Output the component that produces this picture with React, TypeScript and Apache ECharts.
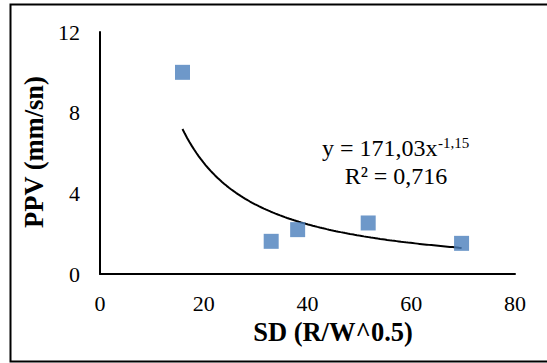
import React, { useEffect, useRef } from "react";
import * as echarts from "echarts";

// Data
const sdValues: number[] = [15.9, 33.0, 38.1, 51.7, 69.7];
const ppvValues: number[] = [10.0, 1.62, 2.2, 2.53, 1.52];

const xTicks = { min: 0, max: 80, interval: 20 };
const yTicks = { min: 0, max: 12, interval: 4 };

const xTitle = "SD (R/W^0.5)";
const yTitle = "PPV (mm/sn)";
const eqMain = "y = 171,03x";
const eqExp = "-1,15";
const eqR2 = "R² = 0,716";

// Power trendline (least squares in log-log space), as a spreadsheet trendline does
function powerFit(xs: number[], ys: number[]) {
  const lx = xs.map(Math.log);
  const ly = ys.map(Math.log);
  const n = xs.length;
  const mx = lx.reduce((a, b) => a + b, 0) / n;
  const my = ly.reduce((a, b) => a + b, 0) / n;
  let sxy = 0;
  let sxx = 0;
  for (let i = 0; i < n; i++) {
    sxy += (lx[i] - mx) * (ly[i] - my);
    sxx += (lx[i] - mx) * (lx[i] - mx);
  }
  const b = sxy / sxx;
  const a = Math.exp(my - b * mx);
  return { a, b };
}

export default function App() {
  const ref = useRef<HTMLDivElement>(null);

  useEffect(() => {
    if (!ref.current) return;
    const chart = echarts.init(ref.current, undefined, { renderer: "svg" });
    const { a, b } = powerFit(sdValues, ppvValues);
    const x0 = Math.min(...sdValues);
    const x1 = Math.max(...sdValues);
    const steps = 120;
    const trend: number[][] = [];
    for (let i = 0; i <= steps; i++) {
      const x = x0 + ((x1 - x0) * i) / steps;
      trend.push([x, a * Math.pow(x, b)]);
    }
    const font = "'Liberation Serif', 'Times New Roman', serif";
    chart.setOption({
      animation: false,
      grid: { left: 100, right: 32, top: 32, bottom: 89 },
      xAxis: {
        type: "value",
        min: xTicks.min,
        max: xTicks.max,
        interval: xTicks.interval,
        axisLine: { show: true, onZero: false, lineStyle: { color: "#000", width: 2 } },
        axisTick: { show: false },
        splitLine: { show: false },
        axisLabel: { color: "#000", fontSize: 22, fontFamily: font, margin: 18 },
      },
      yAxis: {
        type: "value",
        min: yTicks.min,
        max: yTicks.max,
        interval: yTicks.interval,
        axisLine: { show: true, onZero: false, lineStyle: { color: "#000", width: 2 } },
        axisTick: { show: false },
        splitLine: { show: false },
        axisLabel: { color: "#000", fontSize: 22, fontFamily: font, margin: 20 },
      },
      series: [
        {
          type: "line",
          data: trend,
          showSymbol: false,
          symbol: "none",
          smooth: false,
          lineStyle: { color: "#000", width: 2 },
          z: 2,
        },
        {
          type: "scatter",
          data: sdValues.map((x, i) => [x, ppvValues[i]]),
          symbol: "rect",
          symbolSize: 15,
          itemStyle: { color: "#4A7EBB" },
          z: 3,
        },
      ],
      graphic: [
        {
          type: "rect",
          shape: { x: 10.5, y: 4.5, width: 600, height: 357 },
          style: { fill: "none", stroke: "#000", lineWidth: 2 },
          z: 0,
        },
        {
          type: "text",
          x: 333,
          y: 332,
          style: {
            text: xTitle,
            fill: "#000",
            font: `bold 26.5px ${font}`,
            textAlign: "center",
            textVerticalAlign: "middle",
          },
        },
        {
          type: "text",
          x: 34,
          y: 152,
          rotation: Math.PI / 2,
          style: {
            text: yTitle,
            fill: "#000",
            font: `bold 26.5px ${font}`,
            textAlign: "center",
            textVerticalAlign: "middle",
          },
        },
        {
          type: "text",
          x: 322,
          y: 148,
          style: {
            text: eqMain,
            fill: "#000",
            font: `24px ${font}`,
            textAlign: "left",
            textVerticalAlign: "middle",
          },
        },
        {
          type: "text",
          x: 438,
          y: 143,
          style: {
            text: eqExp,
            fill: "#000",
            font: `15px ${font}`,
            textAlign: "left",
            textVerticalAlign: "middle",
          },
        },
        {
          type: "text",
          x: 396,
          y: 175.5,
          style: {
            text: eqR2,
            fill: "#000",
            font: `24px ${font}`,
            textAlign: "center",
            textVerticalAlign: "middle",
          },
        },
      ],
    });
    return () => chart.dispose();
  }, []);

  return (
    <div
      ref={ref}
      style={{ position: "fixed", left: 0, top: 0, width: 547, height: 363, background: "#fff" }}
    />
  );
}
